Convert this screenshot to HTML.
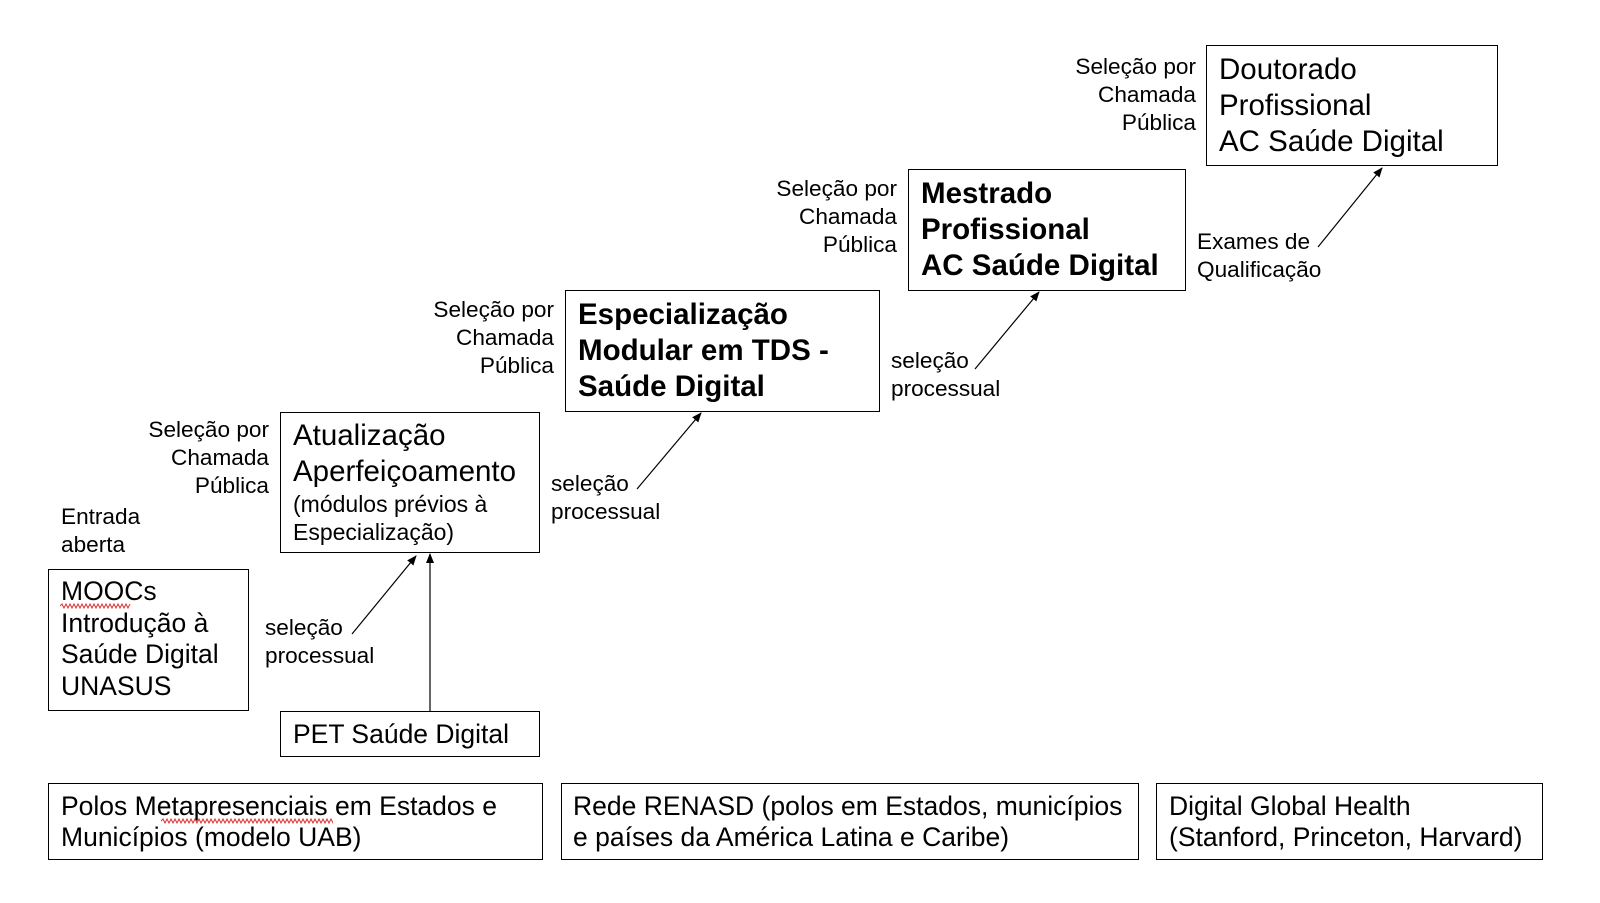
<!DOCTYPE html>
<html><head><meta charset="utf-8"><style>
body{margin:0;width:1600px;height:903px;background:#fff;position:relative;overflow:hidden;font-family:"Liberation Sans",sans-serif;color:#000}
.b{position:absolute;border:1.5px solid #000;box-sizing:border-box;background:#fff}
.t{position:absolute;white-space:nowrap}
.l{position:absolute;font-size:22.6px;line-height:28px;white-space:nowrap}
.r{text-align:right}
</style></head><body>
<div class="b" style="left:48px;top:569px;width:201px;height:142px"></div>
<div class="t" style="left:61px;top:576px;font-size:26.5px;line-height:31.5px">MOOCs<br>Introdução à<br>Saúde Digital<br>UNASUS</div>
<svg style="position:absolute;left:60px;top:603px" width="72" height="6"><path d="M0 3 l2 -2 l2 4 l2 -4 l2 4 l2 -4 l2 4 l2 -4 l2 4 l2 -4 l2 4 l2 -4 l2 4 l2 -4 l2 4 l2 -4 l2 4 l2 -4 l2 4 l2 -4 l2 4 l2 -4 l2 4 l2 -4 l2 4 l2 -4 l2 4 l2 -4 l2 4 l2 -4 l2 4 l2 -4 l2 4 l2 -4 l2 4 l2 -4" stroke="#d33" fill="none" stroke-width="1"/></svg>

<div class="b" style="left:280px;top:412px;width:260px;height:141px"></div>
<div class="t" style="left:293px;top:418px;font-size:29.5px;line-height:36px">Atualização<br>Aperfeiçoamento</div>
<div class="t" style="left:293px;top:490px;font-size:23px;line-height:28px">(módulos prévios à<br>Especialização)</div>

<div class="b" style="left:280px;top:711px;width:260px;height:46px"></div>
<div class="t" style="left:293px;top:719px;font-size:26.5px;line-height:30px">PET Saúde Digital</div>

<div class="b" style="left:565px;top:290px;width:315px;height:122px"></div>
<div class="t" style="left:578px;top:297px;font-size:29.5px;line-height:36px;font-weight:bold">Especialização<br>Modular em TDS -<br>Saúde Digital</div>

<div class="b" style="left:908px;top:169px;width:278px;height:122px"></div>
<div class="t" style="left:921px;top:176px;font-size:29.5px;line-height:36px;font-weight:bold">Mestrado<br>Profissional<br>AC Saúde Digital</div>

<div class="b" style="left:1206px;top:45px;width:292px;height:121px"></div>
<div class="t" style="left:1219px;top:52px;font-size:29.5px;line-height:36px">Doutorado<br>Profissional<br>AC Saúde Digital</div>

<div class="l r" style="right:1331px;top:416px">Seleção por<br>Chamada<br>Pública</div>
<div class="l r" style="right:1046px;top:296px">Seleção por<br>Chamada<br>Pública</div>
<div class="l r" style="right:703px;top:175px">Seleção por<br>Chamada<br>Pública</div>
<div class="l r" style="right:404px;top:53px">Seleção por<br>Chamada<br>Pública</div>
<div class="l" style="left:61px;top:503px">Entrada<br>aberta</div>
<div class="l" style="left:265px;top:614px">seleção<br>processual</div>
<div class="l" style="left:551px;top:470px">seleção<br>processual</div>
<div class="l" style="left:891px;top:347px">seleção<br>processual</div>
<div class="l" style="left:1197px;top:228px">Exames de<br>Qualificação</div>

<svg style="position:absolute;left:0;top:0" width="1600" height="903">
<defs><marker id="a" markerWidth="10" markerHeight="10" refX="9" refY="5" orient="auto" markerUnits="userSpaceOnUse"><path d="M0 1 L10 5 L0 9 Z" fill="#000"/></marker></defs>
<g stroke="#000" stroke-width="1.2">
<line x1="352" y1="634" x2="416" y2="556" marker-end="url(#a)"/>
<line x1="430" y1="711" x2="430" y2="554" marker-end="url(#a)"/>
<line x1="637" y1="489" x2="701" y2="413" marker-end="url(#a)"/>
<line x1="975" y1="369" x2="1039" y2="292" marker-end="url(#a)"/>
<line x1="1318" y1="247" x2="1382" y2="168" marker-end="url(#a)"/>
</g></svg>

<div class="b" style="left:48px;top:783px;width:495px;height:77px"></div>
<div class="t" style="left:61px;top:791px;font-size:26.5px;line-height:31px">Polos Metapresenciais em Estados e<br>Municípios (modelo UAB)</div>
<svg style="position:absolute;left:161px;top:818px" width="172" height="6"><path d="M0 3 l2 -2 l2 4 l2 -4 l2 4 l2 -4 l2 4 l2 -4 l2 4 l2 -4 l2 4 l2 -4 l2 4 l2 -4 l2 4 l2 -4 l2 4 l2 -4 l2 4 l2 -4 l2 4 l2 -4 l2 4 l2 -4 l2 4 l2 -4 l2 4 l2 -4 l2 4 l2 -4 l2 4 l2 -4 l2 4 l2 -4 l2 4 l2 -4 l2 4 l2 -4 l2 4 l2 -4 l2 4 l2 -4 l2 4 l2 -4 l2 4 l2 -4 l2 4 l2 -4 l2 4 l2 -4 l2 4 l2 -4 l2 4 l2 -4 l2 4 l2 -4 l2 4 l2 -4 l2 4 l2 -4 l2 4 l2 -4 l2 4 l2 -4 l2 4 l2 -4 l2 4 l2 -4 l2 4 l2 -4 l2 4 l2 -4 l2 4 l2 -4 l2 4 l2 -4 l2 4 l2 -4 l2 4 l2 -4 l2 4 l2 -4 l2 4 l2 -4 l2 4 l2 -4 l2 4 l2 -4 l2 4 l2 -4" stroke="#d33" fill="none" stroke-width="1"/></svg>
<div class="b" style="left:561px;top:783px;width:578px;height:77px"></div>
<div class="t" style="left:573px;top:791px;font-size:26.5px;line-height:31px">Rede RENASD (polos em Estados, municípios<br>e países da América Latina e Caribe)</div>
<div class="b" style="left:1156px;top:783px;width:387px;height:77px"></div>
<div class="t" style="left:1169px;top:791px;font-size:26.5px;line-height:31px">Digital Global Health<br>(Stanford, Princeton, Harvard)</div>
</body></html>
